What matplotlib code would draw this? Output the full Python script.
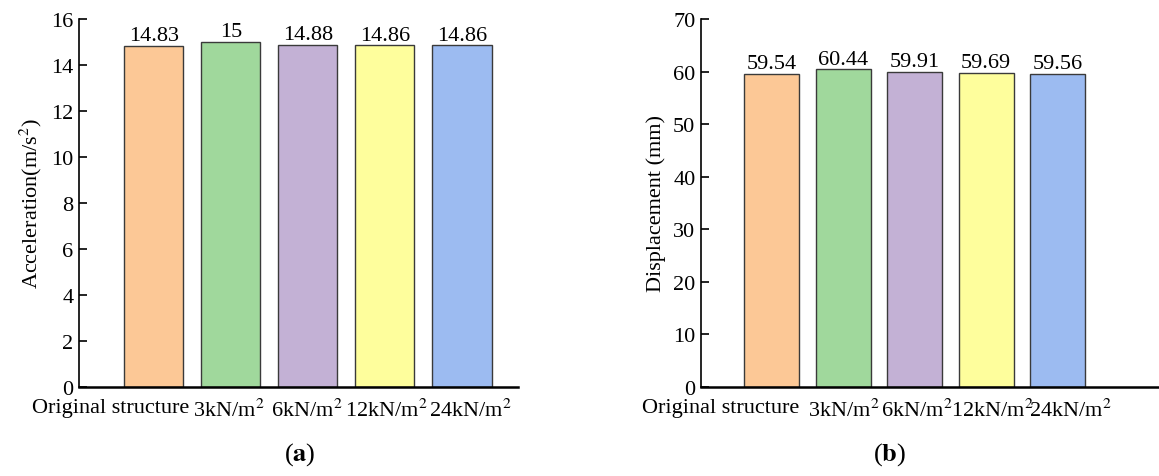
import matplotlib
matplotlib.use("Agg")
import matplotlib.pyplot as plt
import matplotlib.transforms as mtransforms

plt.rcParams['font.family'] = ['Liberation Serif', 'DejaVu Serif']
plt.rcParams['mathtext.fontset'] = 'stix'

# data
categories = ['Original structure', '3kN/m$^{2}$', '6kN/m$^{2}$', '12kN/m$^{2}$', '24kN/m$^{2}$']
acceleration = [14.83, 15, 14.88, 14.86, 14.86]
displacement = [59.54, 60.44, 59.91, 59.69, 59.56]
value_labels_a = ['14.83', '15', '14.88', '14.86', '14.86']
value_labels_b = ['59.54', '60.44', '59.91', '59.69', '59.56']
colors = ['#FCC896', '#A0D89C', '#C3B1D5', '#FEFE9C', '#9CBBF1']

fig = plt.figure(figsize=(11.59, 4.77), dpi=100)
ax1 = fig.add_axes([0.0682, 0.1866, 0.3788, 0.7715])
ax2 = fig.add_axes([0.6048, 0.1866, 0.3952, 0.7715])


def draw_panel(ax, values, labels, ymax, step, ylabel, xlim, shifts):
    x = range(len(values))
    bars = ax.bar(x, values, width=0.77, color=colors, edgecolor='#3a3a3a', linewidth=1.0)
    for b, lab in zip(bars, labels):
        ax.annotate(lab, (b.get_x() + b.get_width() / 2, b.get_height()),
                    xytext=(0, 0.5), textcoords='offset points',
                    ha='center', va='bottom', fontsize=16)
    ax.set_xlim(*xlim)
    ax.set_ylim(0, ymax)
    ax.set_yticks(range(0, ymax + 1, step))
    ax.set_xticks(list(x))
    ax.set_xticklabels(categories, fontsize=16)
    ax.tick_params(axis='x', length=0, pad=8)
    ax.tick_params(axis='y', direction='in', length=6, width=1.2, labelsize=16, pad=4)
    ax.spines['top'].set_visible(False)
    ax.spines['right'].set_visible(False)
    ax.spines['left'].set_linewidth(1.2)
    ax.spines['bottom'].set_linewidth(1.8)
    ax.set_ylabel(ylabel, fontsize=16, labelpad=5)
    # labels are not exactly centred under the bars in the original
    for lbl, dx in zip(ax.get_xticklabels(), shifts):
        lbl.set_transform(lbl.get_transform() +
                          mtransforms.ScaledTranslation(dx / 100, 0, fig.dpi_scale_trans))


draw_panel(ax1, acceleration, value_labels_a, 16, 2, 'Acceleration(m/s$^{2}$)',
           (-0.97, 4.73), [-43, -2, -1, 2, 9])
draw_panel(ax2, displacement, value_labels_b, 70, 10, 'Displacement (mm)',
           (-0.99, 5.42), [-51, 1, 2, 6, 13])

# panel captions
fig.text(300 / 1159, 1 - 455 / 477, r'($\mathbf{a}$)', ha='center', va='center', fontsize=19)
fig.text(890 / 1159, 1 - 455 / 477, r'($\mathbf{b}$)', ha='center', va='center', fontsize=19)

fig.savefig('out.png', dpi=100)
